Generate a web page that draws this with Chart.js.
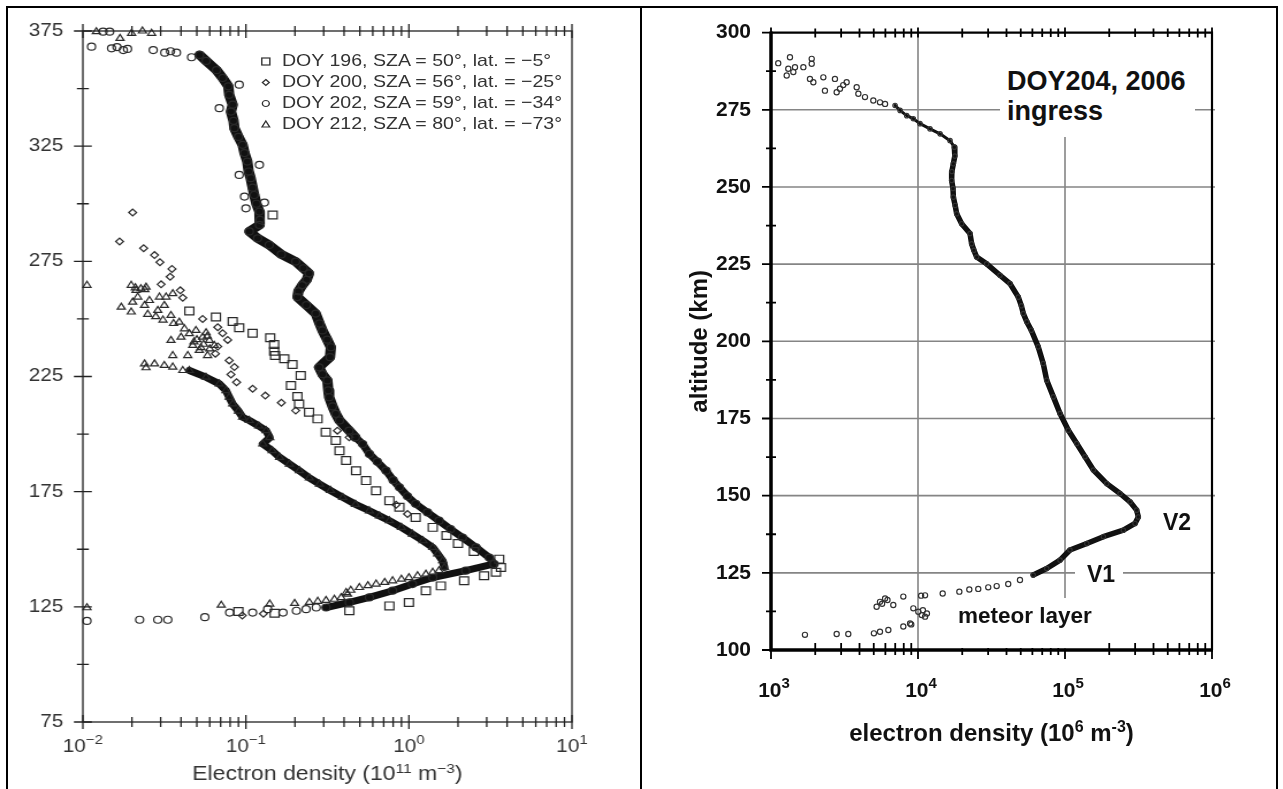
<!DOCTYPE html>
<html>
<head>
<meta charset="utf-8">
<title>Electron density profiles</title>
<script src="https://cdn.jsdelivr.net/npm/chart.js@4.4.1/dist/chart.umd.min.js"></script>
<style>
  html, body { margin: 0; padding: 0; background: #fff; }
  body { position: relative; width: 1283px; height: 789px; overflow: hidden;
         font-family: 'Liberation Sans', Arial, Helvetica, sans-serif; }
  .rule { position: absolute; background: #000; }
  /* the left figure in the source is a little stretched sideways */
  #leftWrap { position: absolute; left: 0; top: 0; width: 557px; height: 789px;
              transform: scaleX(1.1508); transform-origin: 0 0; }
  #rightWrap { position: absolute; left: 641px; top: 0; width: 642px; height: 789px; }
  #legend { position: absolute; left: 226px; top: 50.5px; color: #333; font-size: 17px; }
  #legend .row { display: flex; align-items: center; height: 21px; white-space: nowrap; }
  #legend svg { flex: none; margin-right: 9px; }
  .note { position: absolute; background: #fff; color: #111; font-weight: bold;
          white-space: nowrap; box-sizing: border-box; }
  #doyNote { left: 1000px; top: 37px; width: 195px; height: 100px; padding: 28.6px 0 0 7px;
             font-size: 27px; line-height: 30px; }
  #v2Note { left: 1163px; top: 510.5px; font-size: 23px; line-height: 23px; background: none; }
  #v1Note { left: 1075px; top: 562.5px; font-size: 23px; line-height: 23px; padding: 0 8px 0 12px; }
  #meteorNote { left: 952px; top: 598px; height: 50px; padding: 4.6px 6px 0 6px;
                font-size: 22.5px; line-height: 25px; }
</style>
</head>
<body>
<div class="rule" style="left:6px;top:6px;width:1272px;height:2px"></div>
<div class="rule" style="left:6px;top:6px;width:2px;height:783px"></div>
<div class="rule" style="left:640px;top:6px;width:2px;height:783px"></div>
<div class="rule" style="left:1276px;top:6px;width:2px;height:783px"></div>

<div id="leftWrap">
  <canvas id="leftChart"></canvas>
  <div id="legend">
    <div class="row"><svg width="10" height="21"><rect x="1.5" y="7" width="7" height="7" fill="none" stroke="#333" stroke-width="1.2"/></svg><span>DOY 196, SZA = 50°, lat. = −5°</span></div>
    <div class="row"><svg width="10" height="21"><polygon points="5,7.5 8,10.5 5,13.5 2,10.5" fill="none" stroke="#333" stroke-width="1.2"/></svg><span>DOY 200, SZA = 56°, lat. = −25°</span></div>
    <div class="row"><svg width="10" height="21"><circle cx="5" cy="10.5" r="3" fill="none" stroke="#333" stroke-width="1.2"/></svg><span>DOY 202, SZA = 59°, lat. = −34°</span></div>
    <div class="row"><svg width="10" height="21"><polygon points="5,7 8.3,13 1.7,13" fill="none" stroke="#333" stroke-width="1.2"/></svg><span>DOY 212, SZA = 80°, lat. = −73°</span></div>
  </div>
</div>
<div id="rightWrap"><canvas id="rightChart"></canvas></div>

<div class="note" id="doyNote">DOY204, 2006<br>ingress</div>
<div class="note" id="v2Note">V2</div>
<div class="note" id="v1Note">V1</div>
<div class="note" id="meteorNote">meteor layer</div>

<script>
// ---- data: [electron density, altitude km] ----
// left panel, density in 1e11 m^-3
const doy202Band = [
  [0.052, 364.6], [0.057, 362], [0.066, 358], [0.072, 354.6], [0.078, 351], [0.079, 347.3],
  [0.083, 343], [0.081, 340], [0.084, 336], [0.085, 332.8], [0.09, 329], [0.0955, 325.6],
  [0.098, 322], [0.102, 318.3], [0.104, 314], [0.107, 311.1], [0.11, 307], [0.1125, 303.8],
  [0.116, 300], [0.121, 296.6], [0.122, 293], [0.121, 290.8], [0.105, 288], [0.118, 285],
  [0.139, 282.1], [0.165, 278], [0.202, 274.9], [0.225, 272], [0.244, 269.8], [0.236, 267],
  [0.222, 264.7], [0.21, 262], [0.207, 259.5], [0.235, 256], [0.268, 252.3], [0.283, 248],
  [0.295, 245], [0.315, 241], [0.332, 237.7], [0.328, 233.4], [0.281, 229], [0.295, 226],
  [0.316, 223.3], [0.32, 219], [0.324, 216], [0.34, 212], [0.356, 208.8], [0.375, 205.9],
  [0.43, 201.5], [0.47, 198.6], [0.52, 195.7], [0.572, 191.4], [0.64, 188], [0.724, 184.1],
  [0.8, 180], [0.874, 176.9], [0.98, 173], [1.1, 169.7], [1.3, 166], [1.53, 162.4],
  [1.8, 158.7], [2.13, 155.1], [2.58, 150.8], [3.11, 146.4], [3.33, 143.6], [2.23, 140.7],
  [1.4, 137.7], [1.05, 134.9], [0.794, 132], [0.572, 129.1], [0.431, 126.9], [0.31, 124.7]
];
const doy202Marks = [
  [0.0133, 374.7], [0.0146, 374.7], [0.0113, 368.2], [0.015, 367.5], [0.0162, 368], [0.0177, 366.7],
  [0.0188, 367.2], [0.027, 366.7], [0.0318, 365.6], [0.0345, 366.2], [0.0375, 365.6], [0.0464, 363.6],
  [0.0687, 341.5], [0.091, 351.7], [0.091, 312.5], [0.098, 303.1], [0.121, 316.9], [0.1, 298], [0.13, 300.5],
  [0.0106, 118.9], [0.0223, 119.4], [0.0288, 119.4], [0.0332, 119.4], [0.056, 120.5], [0.0795, 122.5],
  [0.11, 122.5], [0.136, 124], [0.169, 122.5], [0.204, 123.3], [0.234, 124], [0.27, 124.7]
];
const doy212Band = [
  [0.045, 227.6], [0.0569, 224.7], [0.0687, 221.8], [0.0755, 218.9], [0.079, 216], [0.083, 213.1],
  [0.09, 210], [0.0955, 207.3], [0.105, 205.9], [0.12, 203.5], [0.133, 201.5], [0.14, 198.5],
  [0.127, 195.7], [0.145, 192.8], [0.161, 189.9], [0.185, 187], [0.213, 184.1], [0.245, 181],
  [0.283, 178.3], [0.33, 175.5], [0.393, 172.5], [0.47, 169.5], [0.572, 166.7], [0.66, 164.5],
  [0.759, 162.4], [0.9, 159.5], [1.05, 156.6], [1.22, 153.7], [1.4, 150.8], [1.5, 148],
  [1.61, 145], [1.65, 142.1]
];
const doy212Marks = [
  [1.53, 140.7], [1.4, 140], [1.27, 139.2], [1.13, 138.5], [1.0, 137.7], [0.9, 137], [0.794, 136.3],
  [0.71, 135.6], [0.629, 134.9], [0.56, 134.2], [0.497, 133.4], [0.44, 132.2], [0.412, 131.2],
  [0.42, 130.5], [0.384, 129], [0.349, 128.3], [0.31, 127.8], [0.276, 127.4], [0.245, 126.9],
  [0.199, 126.5], [0.14, 126.2], [0.0706, 125.7], [0.0106, 124.6],
  [0.0121, 374.7], [0.0169, 371.8], [0.0199, 374], [0.0232, 375], [0.0264, 374], [0.0106, 264.6],
  [0.0198, 264.6], [0.0212, 262.4], [0.0227, 263.1], [0.0244, 263.8], [0.021, 263.5], [0.024, 262.7],
  [0.0217, 259.5], [0.0256, 258], [0.0202, 257.3], [0.0172, 255.1], [0.0198, 253], [0.0239, 255.9],
  [0.0295, 259.5], [0.0288, 253.7], [0.0324, 259.5], [0.0356, 261], [0.0316, 255.9], [0.025, 252],
  [0.028, 251], [0.031, 249.5], [0.036, 248], [0.0347, 251.5], [0.039, 248.6], [0.042, 245.7],
  [0.0347, 240.7], [0.04, 242.1], [0.045, 243.6], [0.0494, 245], [0.0543, 242.1], [0.0472, 238.5],
  [0.0518, 236.3], [0.0597, 240.7], [0.044, 234.1], [0.0356, 234.1], [0.0582, 234.1], [0.064, 238.5],
  [0.055, 239], [0.05, 241], [0.057, 244], [0.06, 237], [0.053, 237.5], [0.048, 240], [0.058, 242.5],
  [0.0239, 230.5], [0.0244, 228.8], [0.0275, 230.5], [0.0316, 229.8], [0.0356, 229.1], [0.041, 227.6]
];
const doy196Marks = [
  [0.146, 295.1], [0.045, 253.4], [0.0655, 250.8], [0.083, 248.9], [0.091, 246.2], [0.11, 243.8],
  [0.141, 241.8], [0.149, 238.9], [0.149, 236], [0.151, 234.1], [0.172, 232.7], [0.193, 230.2],
  [0.217, 225.4], [0.189, 221.1], [0.207, 216.3], [0.212, 213.1], [0.244, 209.5], [0.275, 206.6],
  [0.309, 200.8], [0.356, 197.2], [0.375, 192.8], [0.412, 188.5], [0.474, 184.1], [0.546, 179.8],
  [0.629, 175.4], [0.759, 171.1], [0.874, 168.2], [1.1, 163.8], [1.4, 159.5], [1.7, 156],
  [2.0, 152.5], [2.5, 149], [3.58, 145.7], [3.67, 142.1], [3.42, 140], [2.89, 138.5],
  [2.18, 136.3], [1.57, 134.1], [1.27, 132], [1.0, 126.9], [0.759, 125.4], [0.431, 123.3],
  [0.15, 122.2], [0.09, 123]
];
const doy200Marks = [
  [0.0202, 296.2], [0.0168, 283.6], [0.0236, 280.7], [0.0275, 277.7], [0.0297, 274.6], [0.0352, 271.7],
  [0.0343, 268.3], [0.0302, 265], [0.0396, 262.4], [0.041, 259.2], [0.0543, 250], [0.0672, 246.4],
  [0.072, 243.8], [0.0773, 240.9], [0.0672, 238], [0.065, 234.9], [0.079, 232], [0.085, 229.1],
  [0.081, 225.9], [0.0877, 222.5], [0.11, 219.7], [0.1315, 216.7], [0.165, 213.6], [0.202, 210.2],
  [0.364, 201.5], [0.43, 198.6], [0.834, 169.3], [0.98, 165.3], [0.095, 121.2], [0.128, 122]
];
// right panel, DOY 204 ingress, density in 1e6 m^-3
const doy204TopMarks = [
  [1120, 290.1], [1346, 292], [1311, 288.3], [1456, 288.8], [1279, 286.1], [1419, 287.2],
  [1660, 288.8], [1892, 291.5], [1892, 289.9], [1841, 285], [1941, 283.9], [2270, 285.5],
  [2328, 281.2], [2723, 285], [2797, 280.7], [2946, 281.8], [3270, 283.9], [3100, 283],
  [3827, 282.3], [3929, 280.2], [4359, 279.1], [4966, 278], [5513, 277.4], [5970, 276.9]
];
const doy204Band = [
  [6982, 276.4], [7550, 274.8], [8380, 273.1], [9295, 272.1], [10320, 270.5], [12070, 268.8],
  [14130, 267.2], [16520, 265], [17670, 262.9], [17800, 260], [17400, 257.5], [17000, 255],
  [16940, 252.1], [17300, 249.5], [17400, 246.7], [17900, 244], [18330, 241.3], [19820, 238.1],
  [22590, 234.9], [23170, 231.6], [24000, 229.5], [25060, 227.3], [29310, 225.1], [36120, 221.4],
  [42260, 218.7], [48130, 214.3], [50500, 211.5], [52050, 209], [55000, 206.3], [59000, 203.6],
  [65750, 198.2], [71120, 192.8], [75100, 187.4], [83360, 182], [92500, 176.6], [105400, 171.2],
  [120200, 166.9], [136900, 162.6], [156000, 158.3], [192300, 153.9], [236800, 150.7], [276900, 148],
  [307200, 145.3], [315400, 143.1], [299500, 141], [249400, 138.8], [182400, 136.7], [140700, 134.5],
  [108100, 132.4], [92500, 129.1], [75100, 126.4], [60790, 124.3]
];
const doy204LowMarks = [
  [49400, 122.7], [41100, 121.4], [34300, 120.7], [30050, 120.3], [25700, 119.8], [22340, 119.6],
  [19110, 118.9], [14720, 118.3], [11170, 117.7], [10500, 117.6], [7945, 117.3], [5970, 116.7],
  [5513, 115.6], [6200, 116.2], [6790, 114.6], [5231, 114], [5700, 115], [9295, 113.5],
  [10050, 112.4], [10600, 111.3], [11170, 110.8], [11500, 111.8], [10800, 112.9], [9000, 108.3],
  [8830, 108.6], [7945, 107.6], [6285, 106.5], [5513, 105.9], [5012, 105.4], [3356, 105.2],
  [2797, 105.2], [1702, 104.9]
];
const leftDecades = [0.01, 0.1, 1, 10];
const rightDecades = [1e3, 1e4, 1e5, 1e6];

// ---- helpers ----
const FONT = "'Liberation Sans', Arial, Helvetica, sans-serif";
const toXY = rows => rows.map(([ne, alt]) => ({ x: ne, y: alt }));
const expText = v => String(Math.round(Math.log10(v))).replace('-', '−');

function marks(rows, style, radius, ink) {
  return {
    data: toXY(rows), showLine: false, pointStyle: style, pointRadius: radius,
    pointBorderColor: ink, pointBackgroundColor: 'rgba(0,0,0,0)', pointBorderWidth: 1.2, clip: 10
  };
}
function band(rows, style, radius, ink, width) {
  return Object.assign(marks(rows, style, radius, ink), {
    showLine: true, borderColor: '#111', borderWidth: width,
    borderJoinStyle: 'round', borderCapStyle: 'round', tension: 0
  });
}

// text with raised parts: parts = [[text, isSup], ...], centred on cx
function drawRich(ctx, parts, cx, baseline, size, supSize, rise, weight, color) {
  const f = s => `${weight} ${s}px ${FONT}`;
  let total = 0;
  const widths = parts.map(([t, sup]) => {
    ctx.font = f(sup ? supSize : size);
    const w = ctx.measureText(t).width;
    total += w;
    return w;
  });
  let px = cx - total / 2;
  ctx.fillStyle = color;
  ctx.textAlign = 'left';
  ctx.textBaseline = 'alphabetic';
  parts.forEach(([t, sup], i) => {
    ctx.font = f(sup ? supSize : size);
    ctx.fillText(t, px, sup ? baseline - rise : baseline);
    px += widths[i];
  });
}

// left frame: box with ticks crossing the axes, decade labels and title
const leftFrame = {
  id: 'leftFrame',
  afterDraw(chart) {
    const { ctx, chartArea: a, scales: { x, y } } = chart;
    ctx.save();
    ctx.strokeStyle = '#222';
    ctx.lineWidth = 1.3;
    ctx.strokeRect(a.left, a.top, a.right - a.left, a.bottom - a.top);
    ctx.beginPath();
    for (let v = 75; v <= 375; v += 25) {
      const py = y.getPixelForValue(v);
      const len = (v - 75) % 50 === 0 ? 7.8 : 5.2;
      ctx.moveTo(a.left - len, py); ctx.lineTo(a.left + len, py);
    }
    for (let e = -2; e <= 1; e++) {
      for (let m = 1; m <= 9; m++) {
        if (e === 1 && m > 1) break;
        const px = x.getPixelForValue(m * Math.pow(10, e));
        const len = m === 1 ? 7 : 5;
        ctx.moveTo(px, a.bottom - len); ctx.lineTo(px, a.bottom + len);
        ctx.moveTo(px, a.top - len); ctx.lineTo(px, a.top + len);
      }
    }
    ctx.stroke();
    leftDecades.forEach(v => {
      drawRich(ctx, [['10', false], [expText(v), true]], x.getPixelForValue(v), 752, 18, 13, 8, 'normal', '#333');
    });
    drawRich(ctx, [['Electron density (10', false], ['11', true], [' m', false], ['−3', true], [')', false]],
      (a.left + a.right) / 2, 780, 20, 13.5, 7, 'normal', '#333');
    ctx.restore();
  }
};

// right frame: grid under the data, heavy axes, ticks, decade labels and title on top
const rightFrame = {
  id: 'rightFrame',
  beforeDatasetsDraw(chart) {
    const { ctx, chartArea: a, scales: { x, y } } = chart;
    ctx.save();
    ctx.strokeStyle = '#858585';
    ctx.lineWidth = 1.6;
    ctx.beginPath();
    for (let v = 125; v < 300; v += 25) {
      const py = y.getPixelForValue(v);
      ctx.moveTo(a.left, py); ctx.lineTo(a.right + 3, py);
    }
    [1e4, 1e5].forEach(v => {
      const px = x.getPixelForValue(v);
      ctx.moveTo(px, a.top); ctx.lineTo(px, a.bottom);
    });
    ctx.stroke();
    ctx.restore();
  },
  afterDraw(chart) {
    const { ctx, chartArea: a, scales: { x, y } } = chart;
    ctx.save();
    ctx.strokeStyle = '#000';
    ctx.lineWidth = 2.2;
    ctx.beginPath();
    ctx.moveTo(a.left, a.top); ctx.lineTo(a.right, a.top); ctx.lineTo(a.right, a.bottom);
    ctx.stroke();
    ctx.lineWidth = 1.8;
    ctx.beginPath();
    for (let v = 100; v <= 300; v += 12.5) {
      const py = y.getPixelForValue(v);
      if (v % 25 === 0) { ctx.moveTo(a.left - 9, py); ctx.lineTo(a.left, py); }
      else { ctx.moveTo(a.left - 5, py); ctx.lineTo(a.left + 5, py); }
    }
    for (let e = 3; e <= 6; e++) {
      for (let m = 1; m <= 9; m++) {
        if (e === 6 && m > 1) break;
        const px = x.getPixelForValue(m * Math.pow(10, e));
        if (m === 1) {
          ctx.moveTo(px, a.bottom); ctx.lineTo(px, a.bottom + 9);
          ctx.moveTo(px, a.top - 5); ctx.lineTo(px, a.top + 5);
        } else {
          ctx.moveTo(px, a.bottom - 7); ctx.lineTo(px, a.bottom + 5);
          ctx.moveTo(px, a.top - 4); ctx.lineTo(px, a.top + 5);
        }
      }
    }
    ctx.stroke();
    ctx.lineWidth = 3.5;
    ctx.beginPath();
    ctx.moveTo(a.left, a.top - 1); ctx.lineTo(a.left, a.bottom); ctx.lineTo(a.right + 1, a.bottom);
    ctx.stroke();
    rightDecades.forEach(v => {
      drawRich(ctx, [['10', false], [expText(v), true]], x.getPixelForValue(v) + 3, 697, 21, 15, 9, 'bold', '#111');
    });
    drawRich(ctx, [['electron density (10', false], ['6', true], [' m', false], ['-3', true], [')', false]],
      (a.left + a.right) / 2, 741, 24, 16, 9, 'bold', '#111');
    ctx.restore();
  }
};

// ---- left chart (drawn narrower, the wrapper stretches it) ----
const ink = '#2a2a2a';
new Chart(document.getElementById('leftChart'), {
  type: 'scatter',
  data: {
    datasets: [
      marks(doy196Marks, 'rect', 5.5, ink),
      marks(doy200Marks, 'rectRot', 3.4, ink),
      marks(doy202Marks, 'circle', 3.5, ink),
      marks(doy212Marks, 'triangle', 4, ink),
      band(doy212Band, 'triangle', 4, ink, 7),
      Object.assign(band(doy202Band, 'circle', 3.5, ink, 8), {
        segment: { borderWidth: c => (c.p0.parsed.y > 200 ? 9 : 7) }
      })
    ]
  },
  options: {
    animation: false, responsive: true, maintainAspectRatio: false, events: [],
    layout: { padding: { left: 0, right: 60, top: 31, bottom: 0 } },
    plugins: { legend: { display: false }, tooltip: { enabled: false } },
    scales: {
      x: {
        type: 'logarithmic', position: 'bottom', min: 0.01, max: 10,
        grid: { display: false, drawTicks: false }, border: { display: false },
        afterBuildTicks: s => { s.ticks = leftDecades.map(v => ({ value: v })); },
        afterFit: s => { s.height = 67; },
        ticks: { display: false }
      },
      y: {
        type: 'linear', min: 75, max: 375,
        grid: { display: false, drawTicks: false }, border: { display: false },
        afterFit: s => { s.width = 72; },
        ticks: { stepSize: 50, autoSkip: false, padding: 17, color: '#333',
                 font: { family: FONT, size: 18 } }
      }
    }
  },
  plugins: [leftFrame]
});

// ---- right chart ----
const ink2 = '#333';
new Chart(document.getElementById('rightChart'), {
  type: 'scatter',
  data: {
    datasets: [
      marks(doy204TopMarks, 'circle', 2.6, ink2),
      marks(doy204LowMarks, 'circle', 2.6, ink2),
      Object.assign(band(doy204Band, 'circle', 2.2, ink2, 5.5), {
        segment: { borderWidth: c => (c.p0.parsed.y > 263 ? 3 : 5.5) }
      })
    ]
  },
  options: {
    animation: false, responsive: true, maintainAspectRatio: false, events: [],
    layout: { padding: { left: 0, right: 71, top: 32, bottom: 0 } },
    plugins: { legend: { display: false }, tooltip: { enabled: false } },
    scales: {
      x: {
        type: 'logarithmic', position: 'bottom', min: 1e3, max: 1e6,
        grid: { display: false, drawTicks: false }, border: { display: false },
        afterBuildTicks: s => { s.ticks = rightDecades.map(v => ({ value: v })); },
        afterFit: s => { s.height = 139; },
        ticks: { display: false }
      },
      y: {
        type: 'linear', min: 100, max: 300,
        grid: { display: false, drawTicks: false }, border: { display: false },
        afterFit: s => { s.width = 130; },
        ticks: { stepSize: 25, autoSkip: false, padding: 20, color: '#111',
                 font: { family: FONT, size: 21, weight: 'bold' } },
        title: { display: true, text: 'altitude (km)', color: '#111',
                 font: { family: FONT, size: 24, weight: 'bold' }, padding: { top: 44.6, bottom: 0 } }
      }
    }
  },
  plugins: [rightFrame]
});
</script>
</body>
</html>
